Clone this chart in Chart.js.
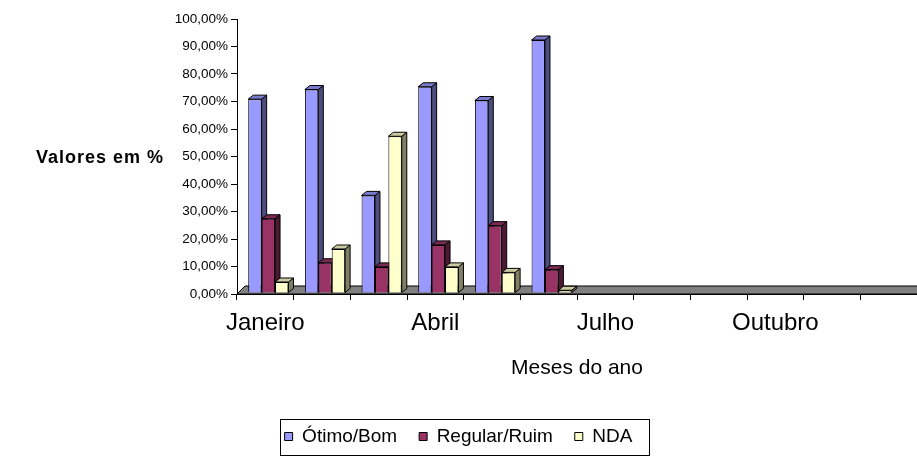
<!DOCTYPE html>
<html>
<head>
<meta charset="utf-8">
<script src="https://cdn.jsdelivr.net/npm/chart.js@4.4.1/dist/chart.umd.min.js"></script>
<style>
  html, body { margin: 0; padding: 0; background: #fff; }
  #wrap { width: 917px; height: 457px; position: relative; }
</style>
</head>
<body>
<div id="wrap"><canvas id="grafico"></canvas></div>
<script>
const meses = ['Janeiro', 'Fevereiro', 'Março', 'Abril', 'Maio', 'Junho',
  'Julho', 'Agosto', 'Setembro', 'Outubro', 'Novembro', 'Dezembro']
const otimoBom = [70.5, 74, 35.5, 75, 70, 92]
const regularRuim = [27, 11, 9.5, 17.5, 24.5, 8.5]
const nda = [4, 16, 57, 9.5, 7.5, 1]
const mesesComRotulo = [0, 3, 6, 9]

// front / side / top colors for the fake 3D look
const cores = [
  ['#9999ff', '#4d4d80', '#7a7acc'],
  ['#993366', '#4d1a33', '#7a2952'],
  ['#ffffcc', '#808066', '#cccca3']
]
const prof = 5
const desloc = 3

const efeito3d = {
  id: 'efeito3d',
  beforeDatasetsDraw(chart) {
    const c = chart.ctx
    const area = chart.chartArea
    const zeroY = chart.scales.y.getPixelForValue(0)
    // floor
    c.save()
    c.fillStyle = '#808080'
    c.strokeStyle = '#000'
    c.lineWidth = 1
    c.beginPath()
    c.moveTo(area.left, zeroY)
    c.lineTo(area.left + 8, zeroY - 8)
    c.lineTo(area.right + 2, zeroY - 8)
    c.lineTo(area.right + 2, zeroY)
    c.closePath()
    c.fill()
    c.stroke()
    c.restore()
    // bars sit a bit to the right of the category centre, as in the 3D original
    c.save()
    c.translate(desloc, -1)
    c.strokeStyle = '#000'
    c.lineWidth = 1
    // side and top faces of each bar
    chart.data.datasets.forEach(function (ds, i) {
      chart.getDatasetMeta(i).data.forEach(function (bar) {
        const esq = bar.x - bar.width / 2
        const dir = bar.x + bar.width / 2
        c.beginPath()
        c.moveTo(dir, bar.y)
        c.lineTo(dir + prof, bar.y - prof + 1)
        c.lineTo(dir + prof, bar.base - prof + 1)
        c.lineTo(dir, bar.base)
        c.closePath()
        c.fillStyle = cores[i][1]
        c.fill()
        c.stroke()
        c.beginPath()
        c.moveTo(esq, bar.y)
        c.lineTo(esq + prof, bar.y - prof + 1)
        c.lineTo(dir + prof, bar.y - prof + 1)
        c.lineTo(dir, bar.y)
        c.closePath()
        c.fillStyle = cores[i][2]
        c.fill()
        c.stroke()
      })
    })
  },
  afterDatasetsDraw(chart) {
    chart.ctx.restore()
  },
  afterDraw(chart) {
    const c = chart.ctx
    c.save()
    // y title, horizontal as in the original
    c.font = 'bold 18px Arial, "Liberation Sans"'
    c.letterSpacing = '1px'
    c.fillStyle = '#000'
    c.textAlign = 'right'
    c.textBaseline = 'middle'
    c.fillText('Valores em %', 164, 158)
    c.letterSpacing = '0px'
    // border around the legend
    const caixas = chart.legend.legendHitBoxes
    if (caixas && caixas.length) {
      const ult = caixas[caixas.length - 1]
      const x0 = caixas[0].left - 5
      const x1 = ult.left + ult.width + 16
      const meio = caixas[0].top + caixas[0].height / 2
      c.strokeStyle = '#000'
      c.lineWidth = 1
      c.strokeRect(Math.round(x0) + 0.5, Math.round(meio - 18) + 0.5, Math.round(x1 - x0), 36)
    }
    c.restore()
  }
}

const ctx = document.getElementById('grafico')

new Chart(ctx, {
  type: 'bar',
  data: {
    labels: meses,
    datasets: [
      { label: 'Ótimo/Bom', data: otimoBom, backgroundColor: cores[0][0] },
      { label: 'Regular/Ruim', data: regularRuim, backgroundColor: cores[1][0] },
      { label: 'NDA', data: nda, backgroundColor: cores[2][0] }
    ].map(function (d) {
      d.borderColor = '#000'
      d.borderWidth = 1
      d.barPercentage = 1
      d.categoryPercentage = 0.71
      return d
    })
  },
  options: {
    responsive: true,
    maintainAspectRatio: false,
    animation: false,
    layout: { padding: { top: 19, right: 0, left: 0, bottom: 1 } },
    plugins: {
      legend: {
        position: 'bottom',
        labels: {
          color: '#000',
          font: { family: 'Arial, "Liberation Sans"', size: 19 },
          boxWidth: 8,
          boxHeight: 8,
          padding: 22
        }
      },
      tooltip: { enabled: false }
    },
    scales: {
      x: {
        offset: true,
        grid: { display: true, drawOnChartArea: false, tickLength: 6, color: '#000', offset: true },
        border: { color: '#000', width: 1 },
        ticks: {
          autoSkip: false,
          maxRotation: 0,
          color: '#000',
          padding: 9,
          font: { family: 'Arial, "Liberation Sans"', size: 24 },
          callback: function (v, i) {
            return mesesComRotulo.includes(i) ? meses[i] : ''
          }
        },
        title: {
          display: true,
          text: 'Meses do ano',
          color: '#000',
          font: { family: 'Arial, "Liberation Sans"', size: 21 },
          padding: { top: 9, bottom: 24 }
        }
      },
      y: {
        min: 0,
        max: 100,
        afterFit: function (s) { s.width = 237 },
        grid: { display: true, drawOnChartArea: false, tickLength: 6, color: '#000' },
        border: { color: '#000', width: 1 },
        ticks: {
          stepSize: 10,
          color: '#000',
          padding: 3,
          font: { family: 'Arial, "Liberation Sans"', size: 13.5 },
          callback: function (v) { return v.toFixed(2).replace('.', ',') + '%' }
        }
      }
    }
  },
  plugins: [efeito3d]
})
</script>
</body>
</html>
